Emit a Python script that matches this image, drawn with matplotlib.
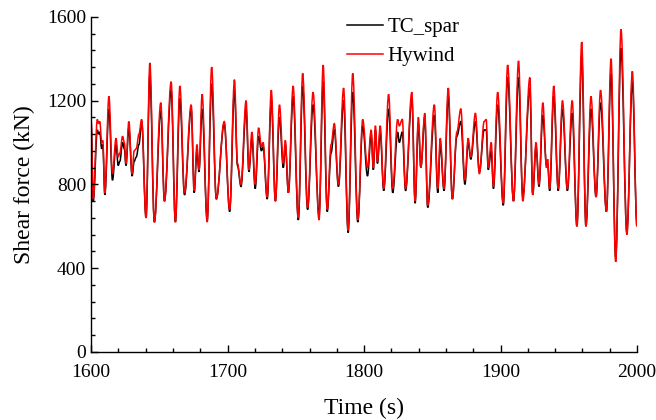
import matplotlib
matplotlib.use("Agg")
import matplotlib.pyplot as plt
from matplotlib.path import Path
from matplotlib.patches import PathPatch
from matplotlib.lines import Line2D
from matplotlib.ticker import MultipleLocator

# Time points (s) at the visible peaks / troughs / shoulders
time = [
    1600, 1601.5, 1604.5, 1605.5, 1606.3, 1607.7, 1608.5, 1610, 1613, 1615.6,
    1618.2, 1619.8, 1621, 1623, 1624.3, 1625.5, 1627.6, 1630, 1631.5, 1633,
    1635, 1637, 1640.2, 1643, 1646.3, 1651, 1653.7, 1658.6, 1661.7, 1665,
    1668.4, 1673.3, 1675.5, 1677.5, 1679, 1681.3, 1685, 1688.3, 1691.7, 1697.5,
    1701.5, 1705, 1707.2, 1709.8, 1713.5, 1715.6, 1717.8, 1720.2, 1722.7, 1724.8,
    1726, 1729, 1732, 1735, 1738, 1740.8, 1742.3, 1744.5, 1748, 1751.8,
    1755, 1758.6, 1762.6, 1767, 1770, 1773, 1775.8, 1778.2, 1781.2, 1785,
    1788.3, 1791.7, 1795.4, 1799, 1802.5, 1805.2, 1806.8, 1808.3, 1809.8, 1811.8,
    1814.4, 1818, 1821, 1824.6, 1825.8, 1828, 1830.4, 1835, 1837.4, 1839.8,
    1841.6, 1844.5, 1846.6, 1851.5, 1854, 1855.8, 1858.6, 1861.7, 1864.7, 1868,
    1870.9, 1873.9, 1876.3, 1878.2, 1881.6, 1884.5, 1888, 1889.5, 1891, 1893.2,
    1894.8, 1897.9, 1902, 1905.2, 1909.5, 1913.2, 1916.3, 1921.5, 1923.6, 1926,
    1928.2, 1931, 1933.7, 1934.5, 1936, 1939, 1942.3, 1945.4, 1949, 1952.5,
    1956, 1959.5, 1962.6, 1966.3, 1970, 1973.3, 1977.6, 1981, 1984.4, 1988.3,
    1992.6, 1996.6, 2000,
]

# Hywind shear force (kN)
hywind = [
    1100, 730, 1110, 1090, 1100, 1000, 1010, 760, 1220, 850,
    1020, 930, 950, 1030, 1000, 900, 1100, 850, 960, 970,
    1040, 1110, 640, 1380, 620, 1190, 720, 1290, 620, 1270,
    760, 1180, 770, 990, 870, 1230, 620, 1360, 730, 1100,
    680, 1300, 900, 800, 1200, 870, 1050, 800, 1070, 980,
    1000, 740, 1250, 720, 1180, 900, 1010, 760, 1270, 640,
    1330, 690, 1240, 630, 1370, 680, 990, 1090, 800, 1260,
    580, 1330, 630, 1110, 880, 1060, 880, 1080, 910, 1080,
    780, 1230, 780, 1110, 1080, 1110, 780, 1240, 720, 1120,
    880, 1140, 700, 1180, 780, 1020, 780, 1260, 730, 1050,
    1160, 820, 1020, 930, 1140, 850, 1100, 1110, 880, 1000,
    790, 1240, 710, 1370, 720, 1390, 720, 1310, 750, 1000,
    800, 1190, 880, 920, 780, 1270, 780, 1200, 780, 1200,
    600, 1480, 600, 1220, 740, 1250, 670, 1400, 430, 1540,
    560, 1340, 600,
]

# TC_spar shear force (kN)
tc_spar = [
    1080, 720, 1060, 1040, 1050, 970, 990, 750, 1160, 820,
    990, 890, 910, 1000, 970, 890, 1070, 840, 910, 930,
    990, 1100, 640, 1320, 620, 1150, 720, 1250, 620, 1210,
    750, 1160, 760, 960, 860, 1160, 630, 1280, 730, 1090,
    670, 1250, 890, 790, 1160, 860, 1020, 780, 1030, 960,
    980, 730, 1200, 720, 1120, 880, 990, 760, 1220, 630,
    1270, 680, 1180, 650, 1290, 670, 950, 1060, 790, 1200,
    570, 1240, 620, 1080, 840, 1040, 870, 1060, 900, 1050,
    770, 1160, 760, 1050, 1000, 1050, 770, 1210, 710, 1090,
    880, 1120, 690, 1130, 760, 990, 770, 1220, 730, 1030,
    1100, 800, 1000, 920, 1100, 860, 1060, 1060, 870, 960,
    780, 1180, 700, 1310, 720, 1310, 740, 1260, 750, 980,
    790, 1130, 890, 900, 770, 1220, 770, 1160, 770, 1140,
    600, 1410, 600, 1160, 740, 1190, 670, 1330, 450, 1450,
    570, 1290, 600,
]


def smooth_path(t, v, k=0.36):
    # cubic Bezier between successive extrema, flat tangent at each point
    verts = [(t[0], v[0])]
    codes = [Path.MOVETO]
    for i in range(len(t) - 1):
        dt = t[i + 1] - t[i]
        verts += [(t[i] + k * dt, v[i]), (t[i + 1] - k * dt, v[i + 1]),
                  (t[i + 1], v[i + 1])]
        codes += [Path.CURVE4] * 3
    return Path(verts, codes)


plt.rcParams["font.family"] = ["Liberation Serif", "DejaVu Serif"]

fig = plt.figure(figsize=(6.56, 4.2), dpi=100)
ax = fig.add_axes([0.139, 0.162, 0.832, 0.798])

ax.add_patch(PathPatch(smooth_path(time, tc_spar), fill=False,
                       edgecolor="black", lw=1.1))
ax.add_patch(PathPatch(smooth_path(time, hywind), fill=False,
                       edgecolor="red", lw=1.1))

ax.set_xlim(1600, 2000)
ax.set_ylim(0, 1600)
ax.xaxis.set_major_locator(MultipleLocator(100))
ax.xaxis.set_minor_locator(MultipleLocator(20))
ax.yaxis.set_major_locator(MultipleLocator(400))
ax.yaxis.set_minor_locator(MultipleLocator(80))
ax.tick_params(which="both", direction="in", labelsize=14, width=1.0)
ax.tick_params(which="major", length=5)
ax.tick_params(which="minor", length=3)
ax.tick_params(axis="x", pad=9)
ax.spines["top"].set_visible(False)
ax.spines["right"].set_visible(False)
ax.spines["left"].set_linewidth(1.0)
ax.spines["bottom"].set_linewidth(1.0)

ax.set_xlabel("Time (s)", fontsize=17, labelpad=12)
ax.set_ylabel("Shear force (kN)", fontsize=17, labelpad=9)

handles = [Line2D([], [], color="black", lw=1.1),
           Line2D([], [], color="red", lw=1.1)]
ax.legend(handles, ["TC_spar", "Hywind"], loc="upper left",
          bbox_to_anchor=(0.469, 0.998), frameon=False, borderpad=0,
          borderaxespad=0, fontsize=15, handlelength=1.7,
          handletextpad=0.25, labelspacing=0.45)

fig.savefig("out.png", dpi=100)
